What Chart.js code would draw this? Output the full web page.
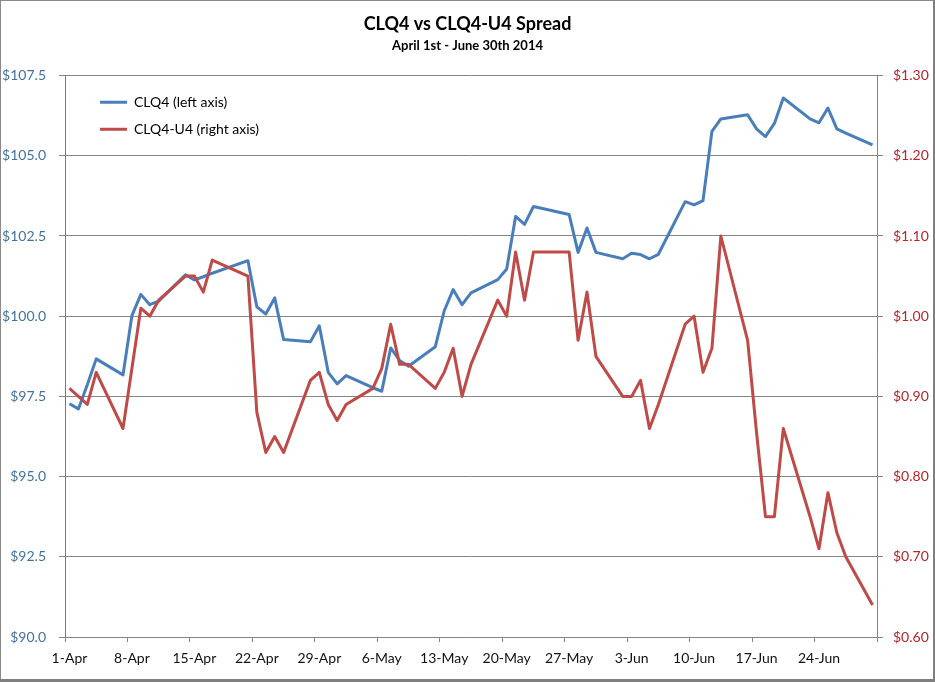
<!DOCTYPE html>
<html>
<head>
<meta charset="utf-8">
<script src="https://cdn.jsdelivr.net/npm/chart.js@4.4.1/dist/chart.umd.min.js"></script>
<style>
  html, body { margin: 0; padding: 0; background: #fff; }
  #wrap { width: 935px; height: 682px; }
</style>
</head>
<body>
<div id="wrap"><canvas id="c" width="935" height="682"></canvas></div>
<script>
// Calendar days (one category per day, Tue 1-Apr .. Mon 30-Jun 2014)
const days = [
  '1-Apr','2-Apr','3-Apr','4-Apr','5-Apr','6-Apr','7-Apr',
  '8-Apr','9-Apr','10-Apr','11-Apr','12-Apr','13-Apr','14-Apr',
  '15-Apr','16-Apr','17-Apr','18-Apr','19-Apr','20-Apr','21-Apr',
  '22-Apr','23-Apr','24-Apr','25-Apr','26-Apr','27-Apr','28-Apr',
  '29-Apr','30-Apr','1-May','2-May','3-May','4-May','5-May',
  '6-May','7-May','8-May','9-May','10-May','11-May','12-May',
  '13-May','14-May','15-May','16-May','17-May','18-May','19-May',
  '20-May','21-May','22-May','23-May','24-May','25-May','26-May',
  '27-May','28-May','29-May','30-May','31-May','1-Jun','2-Jun',
  '3-Jun','4-Jun','5-Jun','6-Jun','7-Jun','8-Jun','9-Jun',
  '10-Jun','11-Jun','12-Jun','13-Jun','14-Jun','15-Jun','16-Jun',
  '17-Jun','18-Jun','19-Jun','20-Jun','21-Jun','22-Jun','23-Jun',
  '24-Jun','25-Jun','26-Jun','27-Jun','28-Jun','29-Jun','30-Jun'
];

// Labelled week ticks on the date axis
const weekTicks = ['1-Apr','8-Apr','15-Apr','22-Apr','29-Apr','6-May','13-May',
                   '20-May','27-May','3-Jun','10-Jun','17-Jun','24-Jun'];

// CLQ4 price (left axis), null = no trading day
const clq4 = [
  97.27, 97.11, 97.86, 98.67, null, null, 98.17,
  100.02, 100.68, 100.36, 100.47, null, null, 101.29,
  101.13, 101.23, 101.34, null, null, null, 101.73,
  100.29, 100.07, 100.57, 99.27, null, null, 99.20,
  99.70, 98.25, 97.89, 98.15, null, null, 97.77,
  97.66, 99.01, 98.62, 98.44, null, null, 99.05,
  100.17, 100.83, 100.36, 100.73, null, null, 101.14,
  101.47, 103.11, 102.86, 103.42, null, null, null,
  103.17, 101.99, 102.75, 101.99, null, null, 101.79,
  101.96, 101.92, 101.79, 101.93, null, null, 103.57,
  103.47, 103.60, 105.76, 106.15, null, null, 106.28,
  105.84, 105.60, 106.01, 106.80, null, null, 106.15,
  106.03, 106.49, 105.84, 105.71, null, null, 105.34
];

// CLQ4-U4 spread (right axis)
const spread = [
  0.91, 0.90, 0.89, 0.93, null, null, 0.86,
  0.935, 1.01, 1.00, 1.02, null, null, 1.05,
  1.05, 1.03, 1.07, null, null, null, 1.05,
  0.88, 0.83, 0.85, 0.83, null, null, 0.92,
  0.93, 0.89, 0.87, 0.89, null, null, 0.91,
  0.935, 0.99, 0.94, 0.94, null, null, 0.91,
  0.93, 0.96, 0.90, 0.94, null, null, 1.02,
  1.00, 1.08, 1.02, 1.08, null, null, null,
  1.08, 0.97, 1.03, 0.95, null, null, 0.90,
  0.90, 0.92, 0.86, 0.89, null, null, 0.99,
  1.00, 0.93, 0.96, 1.10, null, null, 0.97,
  0.855, 0.75, 0.75, 0.86, null, null, 0.75,
  0.71, 0.78, 0.73, 0.70, null, null, 0.64
];

const leftTicks = [90, 92.5, 95, 97.5, 100, 102.5, 105, 107.5];
const rightTicks = [0.6, 0.7, 0.8, 0.9, 1.0, 1.1, 1.2, 1.3];

const GRID = '#868686';

const framePlugin = {
  id: 'frame',
  beforeDraw(chart) {
    const { ctx, width, height } = chart;
    ctx.save();
    ctx.fillStyle = '#ffffff';
    ctx.fillRect(0, 0, width, height);
    ctx.restore();
  },
  afterDraw(chart) {
    const { ctx, width, height } = chart;
    ctx.save();
    ctx.strokeStyle = '#8a8a8a';
    ctx.lineWidth = 1;
    ctx.strokeRect(0.5, 0.5, width - 1, height - 1);
    ctx.fillStyle = '#7f7f7f';
    ctx.fillRect(0, height - 3, width, 3);
    ctx.fillRect(width - 2, 0, 2, height);
    ctx.restore();
  }
};

// place the built-in legend inside the plot area, near the top-left
const legendPlace = {
  id: 'legendPlace',
  afterLayout(chart) {
    const lg = chart.legend;
    if (!lg) return;
    lg.left = chart.chartArea.left + 22;
    lg.top = chart.chartArea.top + 6.7;
  }
};

Chart.defaults.font.family = 'Lato, "Open Sans", sans-serif';

new Chart(document.getElementById('c'), {
  type: 'line',
  data: {
    labels: days,
    datasets: [
      {
        label: 'CLQ4 (left axis)',
        data: clq4,
        yAxisID: 'y',
        borderColor: '#4A7EBB',
        backgroundColor: '#4A7EBB',
        borderWidth: 3,
        pointRadius: 0,
        pointHoverRadius: 0,
        tension: 0,
        spanGaps: true,
        borderJoinStyle: 'round',
        order: 1
      },
      {
        label: 'CLQ4-U4 (right axis)',
        data: spread,
        yAxisID: 'y1',
        borderColor: '#BE4B48',
        backgroundColor: '#BE4B48',
        borderWidth: 3,
        pointRadius: 0,
        pointHoverRadius: 0,
        tension: 0,
        spanGaps: true,
        borderJoinStyle: 'round',
        order: 0
      }
    ]
  },
  options: {
    responsive: false,
    animation: false,
    devicePixelRatio: 1,
    layout: { padding: 0 },
    plugins: {
      title: {
        display: true,
        text: 'CLQ4 vs CLQ4-U4 Spread',
        color: '#000',
        font: { size: 18, weight: 'bold' },
        padding: { top: 13.5, bottom: 3.4 }
      },
      subtitle: {
        display: true,
        text: 'April 1st - June 30th 2014',
        color: '#000',
        font: { size: 13, weight: 'bold' },
        padding: { top: 0, bottom: 21.5 }
      },
      legend: {
        display: true,
        position: 'chartArea',
        align: 'start',
        labels: {
          usePointStyle: true,
          pointStyle: 'line',
          pointStyleWidth: 27,
          boxHeight: 14,
          padding: 13,
          color: '#000',
          font: { size: 14 },
          sort: (a, b) => a.datasetIndex - b.datasetIndex
        }
      },
      tooltip: { enabled: false }
    },
    scales: {
      x: {
        type: 'category',
        offset: true,
        grid: {
          offset: true,
          drawOnChartArea: false,
          drawTicks: true,
          tickLength: 5,
          color: (c) => (c.index === undefined || c.index % 7 === 0) ? GRID : 'rgba(0,0,0,0)'
        },
        border: { display: true, color: GRID },
        ticks: {
          autoSkip: false,
          maxRotation: 0,
          minRotation: 0,
          padding: 8,
          color: '#111',
          font: { size: 14 },
          callback: (v, i) => weekTicks.includes(days[i]) ? days[i] : ''
        },
        afterFit: (s) => { s.height = 45; }
      },
      y: {
        position: 'left',
        min: 90,
        max: 107.5,
        afterBuildTicks: (s) => { s.ticks = leftTicks.map(v => ({ value: v })); },
        ticks: {
          color: '#44719F',
          font: { size: 14 },
          padding: 13,
          callback: (v) => '$' + Number(v).toFixed(1)
        },
        grid: { color: GRID, drawTicks: true, tickLength: 6 },
        border: { display: true, color: '#5A7FAA' },
        afterFit: (s) => { s.width = 65; }
      },
      y1: {
        position: 'right',
        min: 0.6,
        max: 1.3,
        afterBuildTicks: (s) => { s.ticks = rightTicks.map(v => ({ value: v })); },
        ticks: {
          color: '#B5252A',
          font: { size: 14 },
          padding: 10,
          callback: (v) => '$' + Number(v).toFixed(2)
        },
        grid: { drawOnChartArea: false, drawTicks: true, tickLength: 6, color: GRID },
        border: { display: true, color: GRID },
        afterFit: (s) => { s.width = 58; }
      }
    }
  },
  plugins: [framePlugin, legendPlace]
});
</script>
</body>
</html>
